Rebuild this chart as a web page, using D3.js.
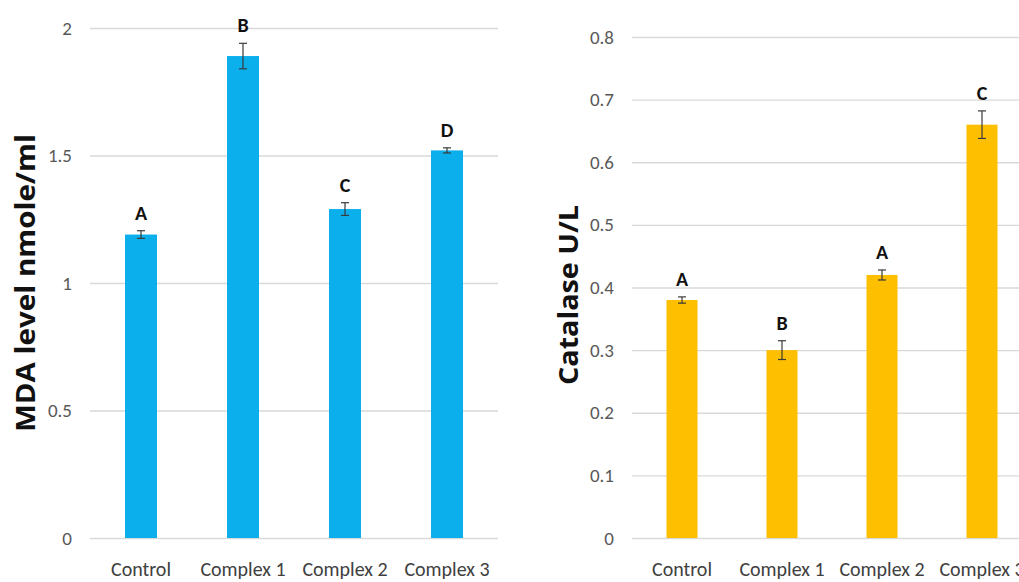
<!DOCTYPE html>
<html>
<head>
<meta charset="utf-8">
<script src="https://cdn.jsdelivr.net/npm/d3@7"></script>
<style>
  html, body { margin: 0; padding: 0; background: #fff; }
  svg { display: block; }
  .tick text { font-family: Carlito, "Liberation Sans Narrow", "Liberation Sans", sans-serif; fill: #595959; }
  .grid line { stroke: #d9d9d9; stroke-width: 1.3; }
</style>
</head>
<body>
<svg id="chart" width="1019" height="582"></svg>
<script>
// Treatment groups
const categories = ["Control", "Complex 1", "Complex 2", "Complex 3"];

// MDA level (nmole/ml): means, errors, significance letters
const mdaValues = [1.19, 1.89, 1.29, 1.52];
const mdaErrors = [0.015, 0.05, 0.025, 0.01];
const mdaLetters = ["A", "B", "C", "D"];
const mdaTicks = [0, 0.5, 1, 1.5, 2];

// Catalase activity (U/L): means, errors, significance letters
const catValues = [0.38, 0.30, 0.42, 0.66];
const catErrors = [0.005, 0.015, 0.008, 0.022];
const catLetters = ["A", "B", "A", "C"];
const catTicks = [0, 0.1, 0.2, 0.3, 0.4, 0.5, 0.6, 0.7, 0.8];

const svg = d3.select("#chart");

function drawPanel(cfg) {
  const g = svg.append("g");
  const x = d3.scaleBand().domain(categories).range([cfg.x0, cfg.x1]).padding(0);
  const y = d3.scaleLinear().domain(cfg.domain).range([cfg.yBottom, cfg.yTop]);

  // horizontal gridlines + tick labels
  const yAxis = g.append("g")
    .attr("class", "grid")
    .attr("transform", `translate(${cfg.x0},0)`)
    .call(d3.axisLeft(y).tickValues(cfg.ticks).tickSize(-(cfg.gridEnd - cfg.x0)).tickPadding(18)
      .tickFormat(d => d3.format("~g")(d)));
  yAxis.select(".domain").remove();
  yAxis.selectAll(".tick text").style("font-size", "19px");

  // category labels
  const xAxis = g.append("g")
    .attr("transform", `translate(0,${cfg.yBottom})`)
    .call(d3.axisBottom(x).tickSize(0).tickPadding(24));
  xAxis.select(".domain").remove();
  xAxis.selectAll(".tick text").style("font-size", "20px").style("fill", "#404040");

  const bw = cfg.barWidth;
  const cx = d => x(d) + x.bandwidth() / 2;

  // bars
  g.selectAll("rect.bar")
    .data(categories)
    .join("rect")
    .attr("class", "bar")
    .attr("x", d => cx(d) - bw / 2)
    .attr("width", bw)
    .attr("y", (d, i) => y(cfg.values[i]))
    .attr("height", (d, i) => y(0) - y(cfg.values[i]))
    .attr("fill", cfg.color);

  // error bars
  const eg = g.append("g").attr("stroke", "#3a3a3a").attr("stroke-width", 1.2);
  categories.forEach((d, i) => {
    const hi = y(cfg.values[i] + cfg.errors[i]);
    const lo = y(cfg.values[i] - cfg.errors[i]);
    const c = cx(d);
    eg.append("line").attr("x1", c).attr("x2", c).attr("y1", hi).attr("y2", lo);
    eg.append("line").attr("x1", c - 4).attr("x2", c + 4).attr("y1", hi).attr("y2", hi);
    eg.append("line").attr("x1", c - 4).attr("x2", c + 4).attr("y1", lo).attr("y2", lo);
  });

  // significance letters
  g.selectAll("text.letter")
    .data(categories)
    .join("text")
    .attr("class", "letter")
    .attr("x", d => cx(d))
    .attr("y", (d, i) => y(cfg.values[i] + cfg.errors[i]) - 11)
    .attr("text-anchor", "middle")
    .style("font-family", "Carlito, 'Liberation Sans Narrow', 'Liberation Sans', sans-serif")
    .style("font-weight", "bold")
    .style("font-size", "20px")
    .style("fill", "#111")
    .text((d, i) => cfg.letters[i]);

  // y-axis title
  g.append("text")
    .attr("transform", `translate(${cfg.titleX},${cfg.titleY}) rotate(-90)`)
    .attr("text-anchor", "middle")
    .attr("dominant-baseline", "central")
    .attr("textLength", cfg.titleLength)
    .attr("lengthAdjust", "spacingAndGlyphs")
    .style("font-family", "'Open Sans', 'DejaVu Sans', sans-serif")
    .style("font-weight", "bold")
    .style("font-size", cfg.titleSize + "px")
    .style("fill", "#111")
    .text(cfg.title);
}

drawPanel({
  x0: 90, x1: 498, gridEnd: 498,
  yTop: 28, yBottom: 538,
  domain: [0, 2], ticks: mdaTicks,
  values: mdaValues, errors: mdaErrors, letters: mdaLetters,
  barWidth: 32, color: "#0aafeb",
  title: "MDA level nmole/ml", titleX: 25, titleY: 283, titleSize: 26, titleLength: 298
});

drawPanel({
  x0: 632, x1: 1032, gridEnd: 1032,
  yTop: 37, yBottom: 538,
  domain: [0, 0.8], ticks: catTicks,
  values: catValues, errors: catErrors, letters: catLetters,
  barWidth: 31, color: "#fdbf00",
  title: "Catalase U/L", titleX: 568, titleY: 295, titleSize: 26, titleLength: 180
});
</script>
</body>
</html>
